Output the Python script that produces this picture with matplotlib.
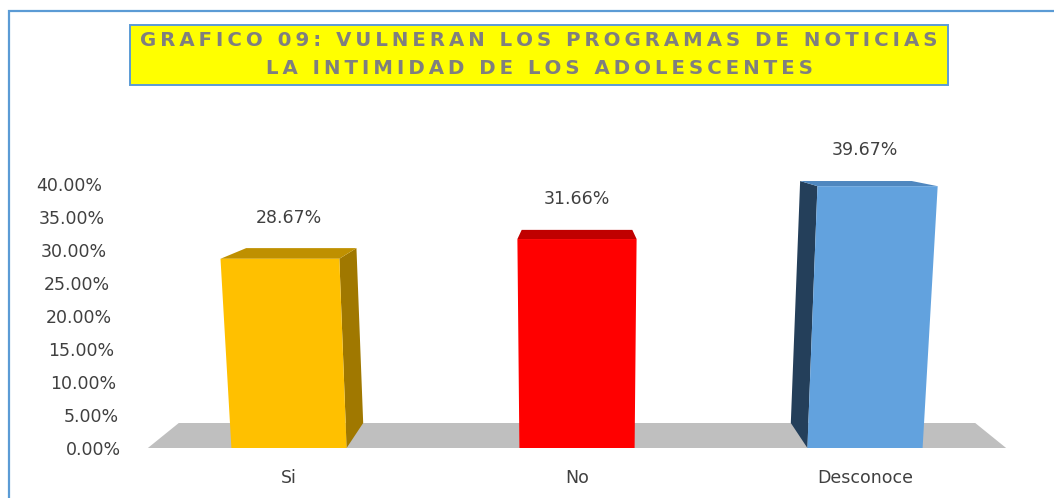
import matplotlib
matplotlib.use('Agg')
import matplotlib.pyplot as plt
from matplotlib.patches import Rectangle, Polygon

# data
categories = ['Si', 'No', 'Desconoce']
values = [28.67, 31.66, 39.67]
value_labels = ['28.67%', '31.66%', '39.67%']
yticks = [0, 5, 10, 15, 20, 25, 30, 35, 40]
title_lines = ['GRAFICO 09: VULNERAN LOS PROGRAMAS DE NOTICIAS',
               'LA INTIMIDAD DE LOS ADOLESCENTES']

front_colors = ['#FFC000', '#FF0000', '#62A2DE']
top_colors = ['#BF9000', '#C00000', '#4F87BF']
side_colors = ['#A07800', '#A00000', '#243F5A']
TEXT = '#404040'

W, H = 1054, 498
BAR_W = 0.40
CENTER = 1.0          # x of the vanishing column
PX_X, PX_Y = 288.0, 6.6   # pixels per x unit / per percent


def lean(x, v):
    # front face leans away from the middle column as it rises
    return x + 0.0011 * (x - CENTER) * v


def depth(x, v):
    # offset of the back edge, in data units
    dx = -0.072 * (x - CENTER)
    dy = (25 - 0.5 * v) / PX_Y
    return dx, dy


fig = plt.figure(figsize=(W / 100, H / 100), dpi=100)
fig.patch.set_facecolor('white')

# chart frame and title box
fig.patches.append(Rectangle((9 / W, -0.1), 1.2, (H - 11) / H + 0.1, transform=fig.transFigure,
                             fill=False, edgecolor='#5B9BD5', linewidth=1.6))
fig.patches.append(Rectangle((130 / W, 1 - 85 / H), 818 / W, 60 / H, transform=fig.transFigure,
                             facecolor='#FFFF00', edgecolor='#5B9BD5', linewidth=1.4))
for i, line in enumerate(title_lines):
    spaced = '\u2009'.join(line)
    fig.text(539 / W, 1 - (41 + 28 * i) / H, spaced, ha='center', va='center',
             fontsize=14.2, fontweight='bold', color='#7F7F7F')

ymax = 45
x0_px, y0_px = 289, 448
ax = fig.add_axes([(x0_px - 0.5 * PX_X) / W, (H - y0_px) / H, 3 * PX_X / W, ymax * PX_Y / H])
ax.set_xlim(-0.5, 2.5)
ax.set_ylim(0, ymax)
for s in ax.spines.values():
    s.set_visible(False)
ax.set_facecolor('none')

# floor
fl, fr = CENTER - 1.49, CENTER + 1.49
dl, dy0 = depth(fl, 0)
dr, _ = depth(fr, 0)
ax.add_patch(Polygon([(fl, 0), (fr, 0), (fr + dr, dy0), (fl + dl, dy0)],
                     closed=True, facecolor='#BFBFBF', edgecolor='none', clip_on=False))

for i, v in enumerate(values):
    xl, xr = i - BAR_W / 2, i + BAR_W / 2
    tl, tr = lean(xl, v), lean(xr, v)
    dxl_t, dyt = depth(tl, v)
    dxr_t, _ = depth(tr, v)
    dxl_b, dyb = depth(xl, 0)
    dxr_b, _ = depth(xr, 0)
    # side face
    if dxr_t > 0.001:
        side = [(xr, 0), (tr, v), (tr + dxr_t, v + dyt), (xr + dxr_b, dyb)]
        ax.add_patch(Polygon(side, facecolor=side_colors[i], edgecolor='none', clip_on=False))
    if dxl_t < -0.001:
        side = [(xl, 0), (tl, v), (tl + dxl_t, v + dyt), (xl + dxl_b, dyb)]
        ax.add_patch(Polygon(side, facecolor=side_colors[i], edgecolor='none', clip_on=False))
    # top face
    top = [(tl, v), (tr, v), (tr + dxr_t, v + dyt), (tl + dxl_t, v + dyt)]
    ax.add_patch(Polygon(top, facecolor=top_colors[i], edgecolor='none', clip_on=False))
    # front face
    front = [(xl, 0), (xr, 0), (tr, v), (tl, v)]
    ax.add_patch(Polygon(front, facecolor=front_colors[i], edgecolor='none', clip_on=False))
    ax.annotate(value_labels[i], (i, v + dyt), xytext=(0, 22), textcoords='offset points',
                ha='center', va='center', fontsize=12.5, color=TEXT, annotation_clip=False)

ax.set_xticks(range(len(categories)))
ax.set_xticklabels(categories, fontsize=12.5, color=TEXT)
ax.set_yticks(yticks)
ax.set_yticklabels([f'{t:.2f}%' for t in yticks], fontsize=12.5, color=TEXT)
ax.tick_params(axis='both', length=0)
ax.tick_params(axis='x', pad=15)
for t, tick in zip(yticks, ax.yaxis.get_major_ticks()):
    tick.set_pad(17 + 0.34 * t)

fig.savefig('out.png', dpi=100)
